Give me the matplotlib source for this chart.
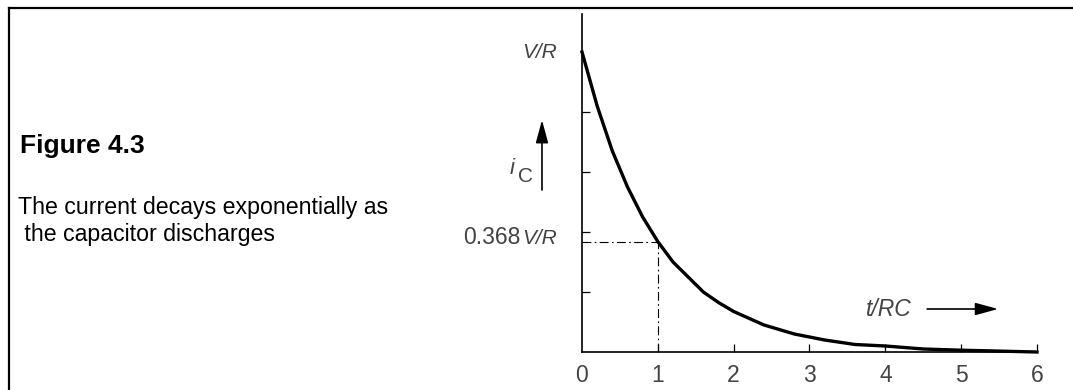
"""
Figure 4.3: current decay while a capacitor discharges through R.
"""

import matplotlib
matplotlib.use("Agg")
import matplotlib.pyplot as plt
from matplotlib.lines import Line2D

# ── Data ───────────────────────────────────────────────────────────────────
T_RC = [0.0, 0.2, 0.4, 0.6, 0.8, 1.0, 1.2, 1.4, 1.6, 1.8, 2.0, 2.4, 2.8,
        3.2, 3.6, 4.0, 4.5, 5.0, 5.5, 6.0]
I_C = [1.0, 0.82, 0.67, 0.55, 0.45, 0.368, 0.30, 0.25, 0.20, 0.165, 0.135,
       0.09, 0.06, 0.04, 0.025, 0.02, 0.01, 0.006, 0.003, 0.0]

X_TICKS = [0, 1, 2, 3, 4, 5, 6]
Y_TICKS = [0.2, 0.4, 0.6, 0.8]
TAU_POINT = (1.0, 0.368)
Y_LABELS = [(1.0, "", "V/R"), (0.38, "0.368", "V/R")]

CAPTION_TITLE = "Figure 4.3"
CAPTION_TEXT = "The current decays exponentially as\n the capacitor discharges"

# ── Layout (pixels of a 1073x390 canvas) ───────────────────────────────────
W, H = 1073, 390
X0, X6 = 582, 1037        # px of t/RC = 0 and 6
Y0, Y1 = 352, 52          # px of i = 0 and i = V/R
Y_TOP = 14                # top end of the vertical axis
GREY = "#444444"

plt.rcParams["font.family"] = ["Liberation Sans", "DejaVu Sans"]
fig = plt.figure(figsize=(W / 100, H / 100), dpi=100)

ytop = 1 + (Y1 - Y_TOP) / (Y0 - Y1)
ax = fig.add_axes([X0 / W, (H - Y0) / H, (X6 - X0) / W, (Y0 - Y_TOP) / H])
ax.set_xlim(0, 6)
ax.set_ylim(0, ytop)

ax.plot(T_RC, I_C, color="black", linewidth=2.4, clip_on=False)

# 1/e guide lines
tx, ty = TAU_POINT
ax.plot([0, tx], [ty, ty], color="black", linewidth=0.8, linestyle="-.",
        dashes=(8, 3, 1.5, 3))
ax.plot([tx, tx], [0, ty], color="black", linewidth=0.8, linestyle="-.",
        dashes=(8, 3, 1.5, 3))

for side in ("top", "right"):
    ax.spines[side].set_visible(False)
for side in ("left", "bottom"):
    ax.spines[side].set_linewidth(1.2)

ax.set_xticks(X_TICKS)
ax.set_xticklabels([str(v) for v in X_TICKS], fontsize=16.5, color=GREY)
ax.set_yticks(Y_TICKS)
ax.set_yticklabels([])
ax.tick_params(axis="both", direction="in", length=6, width=0.9)
ax.tick_params(axis="x", pad=9)
ax.xaxis.get_major_ticks()[0].tick1line.set_visible(False)

px = 1 / 75.8
py = 1 / 300

for yv, num, unit in Y_LABELS:
    ax.text(-25 * px, yv, unit, fontsize=15, color=GREY, style="italic",
            ha="right", va="center")
    if num:
        ax.text(-61 * px, yv, num, fontsize=16.5, color=GREY,
                ha="right", va="center")

# i_C label with upward arrow
arrow_kw = dict(arrowstyle="-|>,head_length=1.4,head_width=0.38",
                color="black", lw=1.2, shrinkA=0, shrinkB=0)
ax.annotate("", xy=(-40 * px, (Y0 - 120) * py), xytext=(-40 * px, (Y0 - 190) * py),
            arrowprops=arrow_kw, annotation_clip=False)
ax.text(-70 * px, (Y0 - 169) * py, "i", fontsize=16, style="italic",
        color=GREY, ha="center", va="center")
ax.text(-56 * px, (Y0 - 176) * py, "C", fontsize=15, color=GREY,
        ha="center", va="center")

# t/RC label with rightward arrow
ax.text((889 - X0) * px, (Y0 - 310) * py, "t/RC", fontsize=16.5, style="italic",
        color=GREY, ha="center", va="center")
ax.annotate("", xy=((998 - X0) * px, (Y0 - 309) * py),
            xytext=((927 - X0) * px, (Y0 - 309) * py),
            arrowprops=arrow_kw, annotation_clip=False)

# caption on the left
fig.text(20 / W, 1 - 146 / H, CAPTION_TITLE, fontsize=19, fontweight="bold",
         ha="left", va="center")
fig.text(18 / W, 1 - 196 / H, CAPTION_TEXT, fontsize=16.7, ha="left",
         va="top", linespacing=1.2)

# frame: top and left rules
fig.add_artist(Line2D([9 / W, 1], [1 - 8 / H, 1 - 8 / H],
                      transform=fig.transFigure, color="black", linewidth=1.6))
fig.add_artist(Line2D([9 / W, 9 / W], [0, 1 - 8 / H],
                      transform=fig.transFigure, color="black", linewidth=1.6))

fig.savefig("out.png", dpi=100)
plt.close("all")
